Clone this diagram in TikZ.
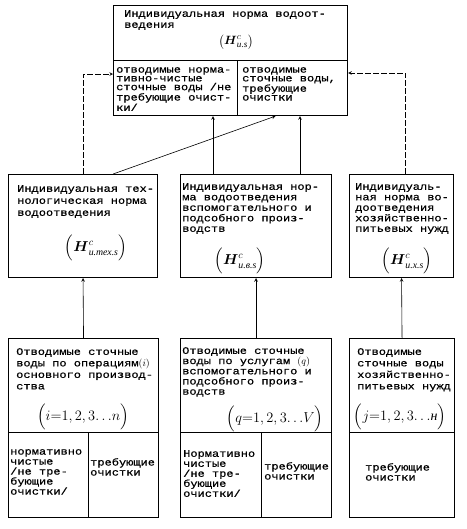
\documentclass[tikz,border=0pt]{standalone}
\usepackage{amsmath}
\usepackage{fontspec}
\setmainfont{Liberation Mono}[FakeStretch=1.2, FakeBold=0.6]
\newfontfamily\fml{Liberation Serif}
\usetikzlibrary{positioning}

\begin{document}
\begin{tikzpicture}[
        x=1pt, y=-1pt,
        font=\fontsize{10}{10.5}\selectfont,
        cell/.style={draw, line width=1.1pt, anchor=north west, inner sep=0pt},
        txt/.style={anchor=north west, inner sep=0pt, align=left},
        wide/.style={txt, font=\fontsize{10}{11.5}\selectfont},
        tight/.style={txt, font=\fontsize{10}{8.8}\selectfont},
        lower/.style={txt, font=\fontsize{10}{10}\selectfont},
        fml/.style={inner sep=0pt, font=\fontsize{14}{14}\selectfont},
        arrow/.style={semithick,->,>=stealth},
        feedback/.style={semithick,dash pattern=on 6pt off 2pt,->,>=stealth}
    ]
        \useasboundingbox (0,0) rectangle (466,529);

        % top box
        \node[cell, minimum width=234pt, minimum height=55pt] (topT) at (113,5) {};
        \node[cell, minimum width=124pt, minimum height=55pt] (topL) at (113,60) {};
        \node[cell, minimum width=110pt, minimum height=55pt] (topR) at (237,60) {};
        \node[txt, font=\fontsize{10}{11}\selectfont, below right=5pt and 11pt of topT.north west] (topTtxt) {
            Индивидуальная норма водоот-\\ведения
        };
        \node[fml, font=\fontsize{13}{13}\selectfont] (topH) at (236,42) {$\bigl(\boldsymbol{H}^{c}_{\text{\fml\itshape и.s}}\bigr)$};
        \node[tight, below right=7pt and 3pt of topL.north west] (topLtxt) {
            отводимые норма-\\тивно-чистые\\сточные воды /не\\требующие очист-\\ки/
        };
        \node[tight, below right=7pt and 5pt of topR.north west] (topRtxt) {
            отводимые\\сточные воды,\\требующие\\очистки
        };

        % middle row
        \node[cell, minimum width=149pt, minimum height=103pt] (midL) at (8,174) {};
        \node[cell, minimum width=151pt, minimum height=103pt] (midM) at (180,174) {};
        \node[cell, minimum width=104pt, minimum height=103pt] (midR) at (349,174) {};
        \node[txt, font=\fontsize{10}{12}\selectfont, below right=11pt and 9pt of midL.north west] (midLtxt) {
            Индивидуальная тех-\\нологическая норма\\водоотведения
        };
        \node[txt, below right=9pt and 2pt of midM.north west] (midMtxt) {
            Индивидуальная нор-\\ма водоотведения\\вспомогательного и\\подсобного произ-\\водств
        };
        \node[txt, below right=9pt and 6pt of midR.north west] (midRtxt) {
            Индивидуаль-\\ная норма во-\\доотведения\\хозяйственно-\\питьевых нужд
        };
        \node[fml] (midLH) at (96,248) {$\Bigl(\boldsymbol{H}^{c}_{\text{\fml\itshape и.тех.s}}\Bigr)$};
        \node[fml] (midMH) at (240,261) {$\Bigl(\boldsymbol{H}^{c}_{\text{\fml\itshape и.в.s}}\Bigr)$};
        \node[fml] (midRH) at (407,261) {$\Bigl(\boldsymbol{H}^{c}_{\text{\fml\itshape и.х.s}}\Bigr)$};

        % bottom row
        \node[cell, minimum width=150pt, minimum height=94pt] (botL) at (8,338) {};
        \node[cell, minimum width=80pt, minimum height=85pt] (botLa) at (8,432) {};
        \node[cell, minimum width=70pt, minimum height=85pt] (botLb) at (88,432) {};
        \node[cell, minimum width=151pt, minimum height=94pt] (botM) at (180,338) {};
        \node[cell, minimum width=81pt, minimum height=85pt] (botMa) at (180,432) {};
        \node[cell, minimum width=70pt, minimum height=85pt] (botMb) at (261,432) {};
        \node[cell, minimum width=105pt, minimum height=94pt] (botR) at (349,338) {};
        \node[cell, minimum width=105pt, minimum height=85pt] (botRa) at (349,432) {};

        \node[wide, below right=10pt and 8pt of botL.north west] (botLtxt) {
            Отводимые сточные\\воды по операциям$(i)$\\основного производ-\\ства
        };
        \node[txt, font=\fontsize{10}{10.2}\selectfont, below right=9pt and 2pt of botM.north west] (botMtxt) {
            Отводимые сточные\\воды по услугам $(q)$\\вспомогательного и\\подсобного произ-\\водств
        };
        \node[wide, below right=10pt and 8pt of botR.north west] (botRtxt) {
            Отводимые\\сточные воды\\хозяйственно-\\питьевых нужд
        };
        \node[fml] (botLi) at (83,417) {$\Bigl(i{=}1,2,3{\ldots}n\Bigr)$};
        \node[fml] (botMq) at (275,419) {$\Bigl(q{=}1,2,3{\ldots}V\Bigr)$};
        \node[fml] (botRj) at (400,417) {$\Bigl(j{=}1,2,3{\ldots}\text{\fml\itshape н}\Bigr)$};

        \node[lower, below right=17pt and 2pt of botLa.north west] (botLatxt) {
            нормативно\\чистые\\/не тре-\\бующие\\очистки/
        };
        \node[lower, below right=26pt and 2pt of botLb.north west] (botLbtxt) {
            требующие\\очистки
        };
        \node[lower, below right=18pt and 3pt of botMa.north west] (botMatxt) {
            Нормативно\\чистые\\/не тре-\\бующие\\очистки/
        };
        \node[lower, below right=30pt and 3pt of botMb.north west] (botMbtxt) {
            требующие\\очистки
        };
        \node[lower, below right=31pt and 16pt of botRa.north west] (botRatxt) {
            требующие\\очистки
        };

        % connectors
        \draw[arrow] (botL.north) -- (midL.south);
        \draw[arrow] (botM.north) -- (midM.south);
        \draw[arrow] (botR.north) -- (midR.south);

        \draw[arrow] ([xshift=33pt]midM.north west) -- ([xshift=33pt]midM.north west |- topL.south);
        \draw[arrow] ([xshift=120pt]midM.north west) -- ([xshift=120pt]midM.north west |- topR.south);
        \draw[arrow] ([xshift=-45pt]midL.north east) -- ([xshift=-17pt]topR.south);

        \draw[feedback] (midL.north) |- ([yshift=14pt]topL.west);
        \draw[feedback] ([xshift=4pt]midR.north) |- ([yshift=15pt]topR.east);
    \end{tikzpicture}
\end{document}
